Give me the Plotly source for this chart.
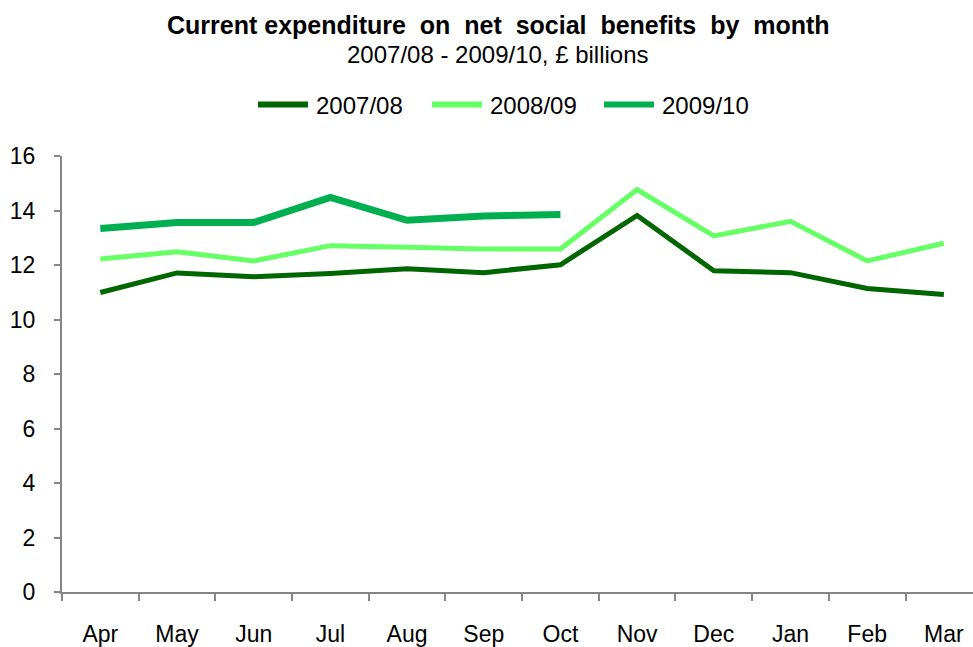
import plotly.graph_objects as go

months = ["Apr", "May", "Jun", "Jul", "Aug", "Sep", "Oct", "Nov", "Dec", "Jan", "Feb", "Mar"]

fy_2007_08 = [10.99, 11.71, 11.57, 11.69, 11.86, 11.72, 12.01, 13.82, 11.79, 11.72, 11.14, 10.92]
fy_2008_09 = [12.22, 12.49, 12.15, 12.71, 12.65, 12.59, 12.59, 14.77, 13.07, 13.60, 12.15, 12.80]
fy_2009_10 = [13.34, 13.56, 13.56, 14.48, 13.64, 13.80, 13.85]

series = [
    ("2007/08", fy_2007_08, "#006600", 5),
    ("2008/09", fy_2008_09, "#66FF66", 5),
    ("2009/10", fy_2009_10, "#00B050", 7),
]

font = "Liberation Sans, Arial, sans-serif"
axis_grey = "#868686"

M_L, M_T, M_B, W, H = 62, 156, 50, 973, 647
plot_w = W - M_L
plot_h = H - M_T - M_B


def px_x(x):
    return (x - M_L) / plot_w


def px_y(y):
    return 1 + (M_T - y) / plot_h


fig = go.Figure()
for name, vals, color, width in series:
    fig.add_trace(go.Scatter(
        x=months[:len(vals)], y=vals, name=name, mode="lines",
        line=dict(color=color, width=width), showlegend=False,
    ))

# legend row drawn as key lines with labels beside them
legend_left = [255, 429, 601]
legend_y = 104
shapes = []
annotations = []
for (name, _, color, _), x0 in zip(series, legend_left):
    shapes.append(dict(type="line", xref="paper", yref="paper",
                       x0=px_x(x0 + 3), x1=px_x(x0 + 53), y0=px_y(legend_y), y1=px_y(legend_y),
                       line=dict(color=color, width=6)))
    annotations.append(dict(text=name, xref="paper", yref="paper",
                            x=px_x(x0 + 59), y=px_y(legend_y + 1), xanchor="left", yanchor="middle",
                            showarrow=False, font=dict(size=24)))

annotations += [
    dict(text="<b>Current expenditure  on  net  social  benefits  by  month</b>",
         xref="paper", yref="paper", x=px_x(498), y=px_y(24), yanchor="middle",
         showarrow=False, font=dict(size=25), xanchor="center"),
    dict(text="2007/08 - 2009/10, £ billions",
         xref="paper", yref="paper", x=px_x(498), y=px_y(53), yanchor="middle",
         showarrow=False, font=dict(size=24), xanchor="center"),
]

fig.update_layout(
    width=W, height=H,
    margin=dict(l=M_L, r=0, t=M_T, b=M_B),
    paper_bgcolor="white", plot_bgcolor="white",
    font=dict(family=font, color="black", size=23),
    showlegend=False,
    xaxis=dict(
        type="category", categoryorder="array", categoryarray=months,
        range=[-0.5, 11.38],
        showline=True, linecolor=axis_grey, linewidth=2,
        ticks="outside", tickson="boundaries", ticklen=7, tickwidth=2, tickcolor=axis_grey,
        ticklabelstandoff=20, showgrid=False, zeroline=False,
        tickfont=dict(size=23),
    ),
    yaxis=dict(
        range=[0, 16], dtick=2, tick0=0,
        showline=True, linecolor=axis_grey, linewidth=2,
        ticks="outside", ticklen=6, tickwidth=2, tickcolor=axis_grey,
        ticklabelstandoff=14, showgrid=False, zeroline=False,
        tickfont=dict(size=23),
    ),
    shapes=shapes,
    annotations=annotations,
)

fig.write_html("out.html")
